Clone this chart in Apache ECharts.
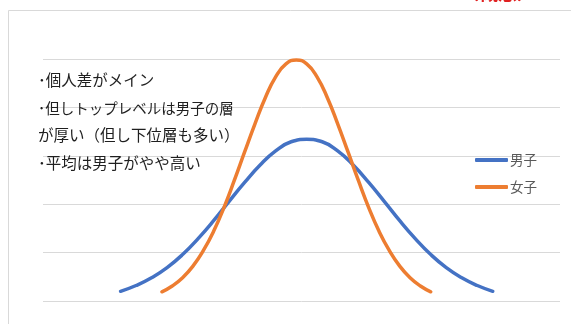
<!DOCTYPE html>
<html>
<head>
<meta charset="utf-8">
<script src="https://cdn.jsdelivr.net/npm/echarts@6/dist/echarts.min.js"></script>
<style>
  html, body { margin: 0; padding: 0; background: #fff; }
  #chart { width: 571px; height: 324px; }
</style>
</head>
<body>
<div id="chart"></div>
<script>
// Distribution curves (relative frequency) for boys and girls
const seriesNames = ['男子', '女子'];

const boysX = [15, 18, 21, 24, 27, 30, 33, 36, 39, 42, 45, 48, 51,
               54, 57, 60, 63, 66, 69, 72, 75, 78, 81, 84, 87];
const boysY = [2.0, 3.2, 4.8, 6.9, 9.6, 12.9, 16.6, 20.6, 24.5, 28.1, 31.0, 32.9, 33.4,
               32.9, 31.0, 28.1, 24.5, 20.6, 16.6, 12.9, 9.6, 6.9, 4.8, 3.2, 2.0];

const girlsX = [23, 25, 27, 29, 31, 33, 35, 37, 39, 41, 43, 45, 47, 49,
                51, 53, 55, 57, 59, 61, 63, 65, 67, 69, 71, 73, 75];
const girlsY = [1.9, 3.1, 4.8, 7.2, 10.4, 14.4, 19.3, 24.9, 30.8, 36.6, 42.0, 46.3, 49.0, 49.8,
                49.0, 46.3, 42.0, 36.6, 30.8, 24.9, 19.3, 14.4, 10.4, 7.2, 4.8, 3.1, 1.9];

const notes = [
  '･個人差がメイン',
  '･但しトップレベルは男子の層',
  'が厚い（但し下位層も多い）',
  '･平均は男子がやや高い'
];
const noteY = [80, 108, 135.5, 163.5];

const pairs = (xs, ys) => xs.map((x, i) => [x, ys[i]]);

const chart = echarts.init(document.getElementById('chart'), null, { renderer: 'canvas' });

const font = '"Noto Sans CJK JP", "Noto Sans", sans-serif';

const graphics = [
  {
    type: 'rect',
    shape: { x: 8.5, y: 10.5, width: 700, height: 400 },
    style: { fill: 'none', stroke: '#d9d9d9', lineWidth: 1 },
    silent: true,
    z: -1
  },
  {
    type: 'text',
    left: 460,
    top: -17,
    style: { text: '（概念）', fill: '#e02020', font: 'bold 19px ' + font },
    silent: true
  }
];
notes.forEach((t, i) => {
  graphics.push({
    type: 'text',
    x: 38,
    y: noteY[i],
    style: {
      text: t,
      fill: '#1f1f1f',
      font: (i === 1 ? '14.5px ' : '15.5px ') + font,
      textVerticalAlign: 'middle'
    },
    silent: true,
    z: 10
  });
});

chart.setOption({
  animation: false,
  backgroundColor: '#fff',
  grid: { left: 43, right: 11, top: 59, bottom: 23 },
  xAxis: {
    type: 'value', min: 0, max: 100,
    show: false
  },
  yAxis: {
    type: 'value', min: 0, max: 50, interval: 10,
    axisLine: { show: false }, axisTick: { show: false }, axisLabel: { show: false },
    splitLine: { lineStyle: { color: '#d9d9d9', width: 1 } }
  },
  legend: {
    orient: 'vertical',
    left: 470, top: 148,
    icon: 'roundRect',
    itemWidth: 33, itemHeight: 4, itemGap: 13,
    textStyle: { color: '#595959', fontSize: 13.5, lineHeight: 14, fontFamily: font, padding: [0, 0, 0, -3] },
    data: seriesNames
  },
  series: [
    {
      name: seriesNames[0], type: 'line', smooth: true, symbol: 'none',
      data: pairs(boysX, boysY),
      lineStyle: { color: '#4472c4', width: 3.5, cap: 'round' },
      itemStyle: { color: '#4472c4' }
    },
    {
      name: seriesNames[1], type: 'line', smooth: true, symbol: 'none',
      data: pairs(girlsX, girlsY),
      lineStyle: { color: '#ed7d31', width: 3.5, cap: 'round' },
      itemStyle: { color: '#ed7d31' }
    }
  ],
  graphic: graphics
});
</script>
</body>
</html>
